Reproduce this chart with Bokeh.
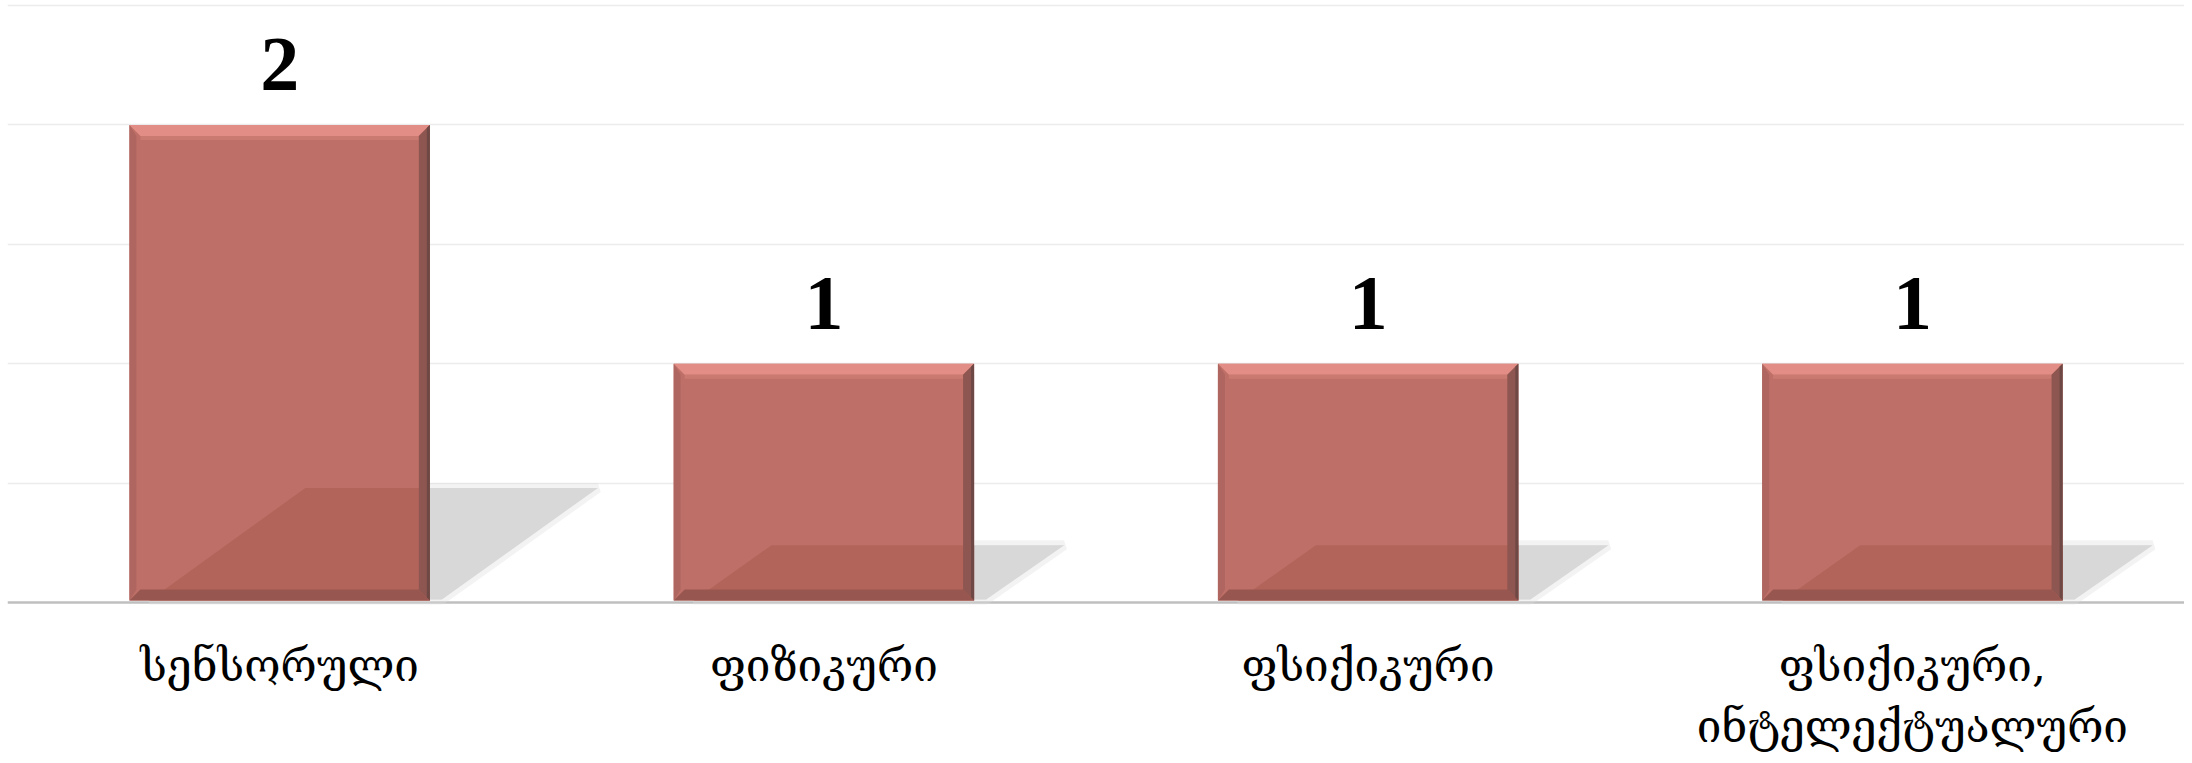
from bokeh.plotting import figure
from bokeh.models import Range1d, FixedTicker, ColumnDataSource
from bokeh.core.properties import value
from bokeh.embed import file_html
from bokeh.resources import INLINE

categories = ["სენსორული", "ფიზიკური", "ფსიქიკური", "ფსიქიკური,\nინტელექტუალური"]
counts = [2, 1, 1, 1]
value_labels = ["2", "1", "1", "1"]
grid_ticks = [0.5, 1.0, 1.5, 2.0, 2.5]

W, H = 2184, 755
LEFT = 7
AXIS_PX = 602          # canvas y of the value axis (y = 0)
Y_END = 2.521
n = len(categories)
PXX = n / (W - LEFT)   # x data units per pixel
PXY = Y_END / AXIS_PX  # y data units per pixel
Y_START = -(H - AXIS_PX) * PXY

BAR_W = 0.552
centers = [i + 0.5 for i in range(n)]

p = figure(width=W, height=H, output_backend="svg", toolbar_location=None,
           x_range=Range1d(0, n), y_range=Range1d(Y_START, Y_END),
           min_border_left=LEFT, min_border_right=0, min_border_top=0,
           min_border_bottom=0)
p.outline_line_color = None
p.background_fill_color = "white"
p.border_fill_color = "white"
p.xaxis.visible = False
p.yaxis.visible = False
p.xgrid.visible = False
p.ygrid.ticker = FixedTicker(ticks=grid_ticks)
p.ygrid.grid_line_color = "#ECECEC"
p.ygrid.grid_line_width = 1.5

# category axis line at y = 0
p.segment(x0=[0], x1=[n], y0=[0], y1=[0], line_color="#BFBFBF", line_width=2.5)

lefts = [c - BAR_W / 2 for c in centers]
rights = [c + BAR_W / 2 for c in centers]

# shadows (parallelograms leaning to the right)
sh_xs, sh_ys, in_xs, in_ys = [], [], [], []
for L, R, v in zip(lefts, rights, counts):
    h = 0.24 * v
    s = 78 * v * PXX
    x0 = L + 20 * PXX
    x1 = R + 12 * PXX
    sh_xs.append([x0, x0 + s, x1 + s, x1])
    sh_ys.append([3 * PXY, h, h, 3 * PXY])
    in_xs.append([x0, x0 + s, R, R])
    in_ys.append([2 * PXY, h, h, 2 * PXY])

p.patches(sh_xs, sh_ys, fill_color="#DCDCDC", fill_alpha=0.5, line_color="#DCDCDC",
          line_alpha=0.35, line_width=10)
p.patches(sh_xs, sh_ys, fill_color="#D8D8D8", line_color=None)

# main bars
src = ColumnDataSource(dict(x=centers, top=counts, lab=value_labels))
p.vbar(x="x", top="top", bottom=2 * PXY, width=BAR_W, source=src,
       fill_color="#BE6F67", line_color=None)

# darker lower region inside bars
p.patches(in_xs, in_ys, fill_color="#B3645A", line_color=None)

# bevel strips
bev = 11
for L, R, v in zip(lefts, rights, counts):
    tb = bev * PXY
    rb = bev * PXX
    b0 = 2 * PXY
    p.patches([[L, R, R - rb, L + rb]], [[v, v, v - tb, v - tb]],
              fill_color="#E28E86", line_color=None)
    p.patches([[L + rb, R - rb, R - rb, L + rb]],
              [[v - tb, v - tb, v - tb - 4 * PXY, v - tb - 4 * PXY]],
              fill_color="#CB7A72", line_color=None)
    p.patches([[R, R, R - rb, R - rb]], [[v, b0, b0 + tb, v - tb]],
              fill_color="#8E5650", line_color=None)
    p.patches([[R, R, R - 3 * PXX, R - 3 * PXX]], [[v, b0, b0 + 3 * PXY, v - 3 * PXY]],
              fill_color="#6E4844", line_color=None)
    p.patches([[L, R, R - rb, L + rb]], [[b0, b0, b0 + tb, b0 + tb]],
              fill_color="#97564F", line_color=None)
    lb = 7 * PXX
    p.patches([[L, L, L + lb, L + lb]], [[b0, v, v - tb, b0 + tb]],
              fill_color="#AF6660", line_color=None)

# value labels
p.text(x="x", y="top", text="lab", source=src, text_align="center",
       text_baseline="alphabetic", y_offset=-60,
       text_font=value("Liberation Serif"), text_font_style="bold",
       text_font_size="78px", text_color="black")

# category labels under the axis line
lab_x, lab_y, lab_t = [], [], []
for c, cat in zip(centers, categories):
    for k, line in enumerate(cat.split("\n")):
        lab_x.append(c)
        lab_y.append(-(63 + 61 * k) * PXY)
        lab_t.append(line)
p.text(x=lab_x, y=lab_y, text=lab_t, text_align="center", text_baseline="alphabetic",
       text_font=value("DejaVu Serif"), text_font_size="44px", text_color="black")

open("out.html", "w").write(file_html(p, INLINE))
